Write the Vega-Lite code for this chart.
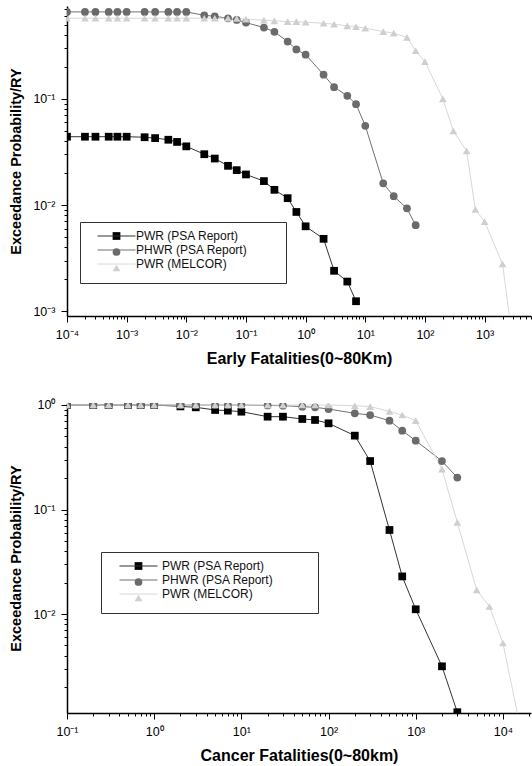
{
  "$schema": "https://vega.github.io/schema/vega-lite/v6.json",
  "padding": {"left": 8, "top": 3, "right": 0, "bottom": 0},
  "spacing": 31,
  "resolve": {
    "scale": {"fill": "independent", "shape": "independent", "stroke": "independent"},
    "legend": {"fill": "independent", "shape": "independent", "stroke": "independent"}
  },
  "config": {
    "view": {"stroke": null},
    "font": "Liberation Sans",
    "axis": {"grid": false, "domainColor": "#000000", "domainWidth": 1.5, "tickColor": "#000000", "tickWidth": 1, "labelFont": "Liberation Sans", "labelFontSize": 12.5, "labelColor": "#000000", "titleFont": "Liberation Sans", "titleFontWeight": "bold", "titleColor": "#000000", "labelOverlap": false, "labelFlush": false, "labelBound": false},
    "axisX": {"titleFontSize": 16, "labelPadding": 6, "titlePadding": 10},
    "axisY": {"titleFontSize": 14.5, "labelPadding": 6, "titlePadding": 9},
    "legend": {"orient": "none", "title": null, "padding": 8, "labelFont": "Liberation Sans", "labelFontSize": 12, "labelColor": "#111111", "rowPadding": 2, "fillColor": null}
  },
  "datasets": {
    "early": [
      {"series": "PWR (PSA Report)", "x": 0.0001, "y": 0.044},
      {"series": "PWR (PSA Report)", "x": 0.0002, "y": 0.044},
      {"series": "PWR (PSA Report)", "x": 0.0003, "y": 0.044},
      {"series": "PWR (PSA Report)", "x": 0.0005, "y": 0.044},
      {"series": "PWR (PSA Report)", "x": 0.0007, "y": 0.044},
      {"series": "PWR (PSA Report)", "x": 0.001, "y": 0.044},
      {"series": "PWR (PSA Report)", "x": 0.002, "y": 0.0435},
      {"series": "PWR (PSA Report)", "x": 0.003, "y": 0.0427},
      {"series": "PWR (PSA Report)", "x": 0.005, "y": 0.0412},
      {"series": "PWR (PSA Report)", "x": 0.007, "y": 0.0393},
      {"series": "PWR (PSA Report)", "x": 0.01, "y": 0.0357},
      {"series": "PWR (PSA Report)", "x": 0.02, "y": 0.0301},
      {"series": "PWR (PSA Report)", "x": 0.03, "y": 0.0274},
      {"series": "PWR (PSA Report)", "x": 0.05, "y": 0.0234},
      {"series": "PWR (PSA Report)", "x": 0.07, "y": 0.0213},
      {"series": "PWR (PSA Report)", "x": 0.1, "y": 0.0194},
      {"series": "PWR (PSA Report)", "x": 0.2, "y": 0.0168},
      {"series": "PWR (PSA Report)", "x": 0.3, "y": 0.0139},
      {"series": "PWR (PSA Report)", "x": 0.5, "y": 0.0116},
      {"series": "PWR (PSA Report)", "x": 0.7, "y": 0.0086},
      {"series": "PWR (PSA Report)", "x": 1, "y": 0.0063},
      {"series": "PWR (PSA Report)", "x": 2, "y": 0.0048},
      {"series": "PWR (PSA Report)", "x": 3, "y": 0.0024},
      {"series": "PWR (PSA Report)", "x": 5, "y": 0.0019},
      {"series": "PWR (PSA Report)", "x": 7, "y": 0.00124},
      {"series": "PHWR (PSA Report)", "x": 0.0001, "y": 0.66},
      {"series": "PHWR (PSA Report)", "x": 0.0002, "y": 0.66},
      {"series": "PHWR (PSA Report)", "x": 0.0003, "y": 0.66},
      {"series": "PHWR (PSA Report)", "x": 0.0005, "y": 0.66},
      {"series": "PHWR (PSA Report)", "x": 0.0007, "y": 0.66},
      {"series": "PHWR (PSA Report)", "x": 0.001, "y": 0.66},
      {"series": "PHWR (PSA Report)", "x": 0.002, "y": 0.66},
      {"series": "PHWR (PSA Report)", "x": 0.003, "y": 0.66},
      {"series": "PHWR (PSA Report)", "x": 0.005, "y": 0.66},
      {"series": "PHWR (PSA Report)", "x": 0.007, "y": 0.66},
      {"series": "PHWR (PSA Report)", "x": 0.01, "y": 0.66},
      {"series": "PHWR (PSA Report)", "x": 0.02, "y": 0.613},
      {"series": "PHWR (PSA Report)", "x": 0.03, "y": 0.6},
      {"series": "PHWR (PSA Report)", "x": 0.05, "y": 0.574},
      {"series": "PHWR (PSA Report)", "x": 0.07, "y": 0.555},
      {"series": "PHWR (PSA Report)", "x": 0.1, "y": 0.523},
      {"series": "PHWR (PSA Report)", "x": 0.2, "y": 0.47},
      {"series": "PHWR (PSA Report)", "x": 0.3, "y": 0.428},
      {"series": "PHWR (PSA Report)", "x": 0.5, "y": 0.347},
      {"series": "PHWR (PSA Report)", "x": 0.7, "y": 0.292},
      {"series": "PHWR (PSA Report)", "x": 1, "y": 0.261},
      {"series": "PHWR (PSA Report)", "x": 2, "y": 0.169},
      {"series": "PHWR (PSA Report)", "x": 3, "y": 0.129},
      {"series": "PHWR (PSA Report)", "x": 5, "y": 0.107},
      {"series": "PHWR (PSA Report)", "x": 7, "y": 0.0892},
      {"series": "PHWR (PSA Report)", "x": 10, "y": 0.0558},
      {"series": "PHWR (PSA Report)", "x": 20, "y": 0.016},
      {"series": "PHWR (PSA Report)", "x": 30, "y": 0.0121},
      {"series": "PHWR (PSA Report)", "x": 50, "y": 0.0093},
      {"series": "PHWR (PSA Report)", "x": 70, "y": 0.00645},
      {"series": "PWR (MELCOR)", "x": 0.0001, "y": 0.575},
      {"series": "PWR (MELCOR)", "x": 0.0002, "y": 0.575},
      {"series": "PWR (MELCOR)", "x": 0.0003, "y": 0.575},
      {"series": "PWR (MELCOR)", "x": 0.0005, "y": 0.575},
      {"series": "PWR (MELCOR)", "x": 0.0007, "y": 0.575},
      {"series": "PWR (MELCOR)", "x": 0.001, "y": 0.575},
      {"series": "PWR (MELCOR)", "x": 0.002, "y": 0.575},
      {"series": "PWR (MELCOR)", "x": 0.003, "y": 0.575},
      {"series": "PWR (MELCOR)", "x": 0.005, "y": 0.575},
      {"series": "PWR (MELCOR)", "x": 0.007, "y": 0.575},
      {"series": "PWR (MELCOR)", "x": 0.01, "y": 0.575},
      {"series": "PWR (MELCOR)", "x": 0.02, "y": 0.575},
      {"series": "PWR (MELCOR)", "x": 0.03, "y": 0.575},
      {"series": "PWR (MELCOR)", "x": 0.05, "y": 0.575},
      {"series": "PWR (MELCOR)", "x": 0.07, "y": 0.572},
      {"series": "PWR (MELCOR)", "x": 0.1, "y": 0.565},
      {"series": "PWR (MELCOR)", "x": 0.2, "y": 0.551},
      {"series": "PWR (MELCOR)", "x": 0.3, "y": 0.543},
      {"series": "PWR (MELCOR)", "x": 0.5, "y": 0.535},
      {"series": "PWR (MELCOR)", "x": 0.7, "y": 0.535},
      {"series": "PWR (MELCOR)", "x": 1, "y": 0.527},
      {"series": "PWR (MELCOR)", "x": 2, "y": 0.516},
      {"series": "PWR (MELCOR)", "x": 3, "y": 0.505},
      {"series": "PWR (MELCOR)", "x": 5, "y": 0.487},
      {"series": "PWR (MELCOR)", "x": 7, "y": 0.48},
      {"series": "PWR (MELCOR)", "x": 10, "y": 0.463},
      {"series": "PWR (MELCOR)", "x": 20, "y": 0.431},
      {"series": "PWR (MELCOR)", "x": 30, "y": 0.416},
      {"series": "PWR (MELCOR)", "x": 50, "y": 0.379},
      {"series": "PWR (MELCOR)", "x": 70, "y": 0.284},
      {"series": "PWR (MELCOR)", "x": 100, "y": 0.224},
      {"series": "PWR (MELCOR)", "x": 200, "y": 0.1},
      {"series": "PWR (MELCOR)", "x": 300, "y": 0.0498},
      {"series": "PWR (MELCOR)", "x": 500, "y": 0.0323},
      {"series": "PWR (MELCOR)", "x": 700, "y": 0.0091},
      {"series": "PWR (MELCOR)", "x": 1000, "y": 0.00698},
      {"series": "PWR (MELCOR)", "x": 2000, "y": 0.00278},
      {"series": "PWR (MELCOR)", "x": 3000, "y": 0.0005}
    ],
    "cancer": [
      {"series": "PWR (PSA Report)", "x": 0.1, "y": 1},
      {"series": "PWR (PSA Report)", "x": 0.2, "y": 1},
      {"series": "PWR (PSA Report)", "x": 0.3, "y": 1},
      {"series": "PWR (PSA Report)", "x": 0.5, "y": 1},
      {"series": "PWR (PSA Report)", "x": 0.7, "y": 1},
      {"series": "PWR (PSA Report)", "x": 1, "y": 1},
      {"series": "PWR (PSA Report)", "x": 2, "y": 0.97},
      {"series": "PWR (PSA Report)", "x": 3, "y": 0.95},
      {"series": "PWR (PSA Report)", "x": 5, "y": 0.896},
      {"series": "PWR (PSA Report)", "x": 7, "y": 0.883},
      {"series": "PWR (PSA Report)", "x": 10, "y": 0.863},
      {"series": "PWR (PSA Report)", "x": 20, "y": 0.773},
      {"series": "PWR (PSA Report)", "x": 30, "y": 0.773},
      {"series": "PWR (PSA Report)", "x": 50, "y": 0.735},
      {"series": "PWR (PSA Report)", "x": 70, "y": 0.719},
      {"series": "PWR (PSA Report)", "x": 100, "y": 0.668},
      {"series": "PWR (PSA Report)", "x": 200, "y": 0.509},
      {"series": "PWR (PSA Report)", "x": 300, "y": 0.291},
      {"series": "PWR (PSA Report)", "x": 500, "y": 0.0637},
      {"series": "PWR (PSA Report)", "x": 700, "y": 0.0229},
      {"series": "PWR (PSA Report)", "x": 1000, "y": 0.0111},
      {"series": "PWR (PSA Report)", "x": 2000, "y": 0.00316},
      {"series": "PWR (PSA Report)", "x": 3000, "y": 0.00115},
      {"series": "PHWR (PSA Report)", "x": 0.1, "y": 1},
      {"series": "PHWR (PSA Report)", "x": 0.2, "y": 1},
      {"series": "PHWR (PSA Report)", "x": 0.3, "y": 1},
      {"series": "PHWR (PSA Report)", "x": 0.5, "y": 1},
      {"series": "PHWR (PSA Report)", "x": 0.7, "y": 1},
      {"series": "PHWR (PSA Report)", "x": 1, "y": 1},
      {"series": "PHWR (PSA Report)", "x": 2, "y": 1},
      {"series": "PHWR (PSA Report)", "x": 3, "y": 1},
      {"series": "PHWR (PSA Report)", "x": 5, "y": 1},
      {"series": "PHWR (PSA Report)", "x": 7, "y": 1},
      {"series": "PHWR (PSA Report)", "x": 10, "y": 1},
      {"series": "PHWR (PSA Report)", "x": 20, "y": 0.99},
      {"series": "PHWR (PSA Report)", "x": 30, "y": 0.985},
      {"series": "PHWR (PSA Report)", "x": 50, "y": 0.964},
      {"series": "PHWR (PSA Report)", "x": 70, "y": 0.95},
      {"series": "PHWR (PSA Report)", "x": 100, "y": 0.915},
      {"series": "PHWR (PSA Report)", "x": 200, "y": 0.832},
      {"series": "PHWR (PSA Report)", "x": 300, "y": 0.802},
      {"series": "PHWR (PSA Report)", "x": 500, "y": 0.708},
      {"series": "PHWR (PSA Report)", "x": 700, "y": 0.568},
      {"series": "PHWR (PSA Report)", "x": 1000, "y": 0.456},
      {"series": "PHWR (PSA Report)", "x": 2000, "y": 0.291},
      {"series": "PHWR (PSA Report)", "x": 3000, "y": 0.202},
      {"series": "PWR (MELCOR)", "x": 0.1, "y": 1},
      {"series": "PWR (MELCOR)", "x": 0.2, "y": 1},
      {"series": "PWR (MELCOR)", "x": 0.3, "y": 1},
      {"series": "PWR (MELCOR)", "x": 0.5, "y": 1},
      {"series": "PWR (MELCOR)", "x": 0.7, "y": 1},
      {"series": "PWR (MELCOR)", "x": 1, "y": 1},
      {"series": "PWR (MELCOR)", "x": 2, "y": 1},
      {"series": "PWR (MELCOR)", "x": 3, "y": 1},
      {"series": "PWR (MELCOR)", "x": 5, "y": 1},
      {"series": "PWR (MELCOR)", "x": 7, "y": 1},
      {"series": "PWR (MELCOR)", "x": 10, "y": 1},
      {"series": "PWR (MELCOR)", "x": 20, "y": 1},
      {"series": "PWR (MELCOR)", "x": 30, "y": 1},
      {"series": "PWR (MELCOR)", "x": 50, "y": 1},
      {"series": "PWR (MELCOR)", "x": 70, "y": 1},
      {"series": "PWR (MELCOR)", "x": 100, "y": 1},
      {"series": "PWR (MELCOR)", "x": 200, "y": 0.985},
      {"series": "PWR (MELCOR)", "x": 300, "y": 0.964},
      {"series": "PWR (MELCOR)", "x": 500, "y": 0.87},
      {"series": "PWR (MELCOR)", "x": 700, "y": 0.802},
      {"series": "PWR (MELCOR)", "x": 1000, "y": 0.708},
      {"series": "PWR (MELCOR)", "x": 2000, "y": 0.244},
      {"series": "PWR (MELCOR)", "x": 3000, "y": 0.0754},
      {"series": "PWR (MELCOR)", "x": 5000, "y": 0.017},
      {"series": "PWR (MELCOR)", "x": 7000, "y": 0.0118},
      {"series": "PWR (MELCOR)", "x": 10000, "y": 0.00528},
      {"series": "PWR (MELCOR)", "x": 20000, "y": 0.00032}
    ]
  },
  "vconcat": [
    {
      "width": 464,
      "height": 310,
      "data": {"name": "early"},
      "encoding": {
        "x": {"field": "x", "type": "quantitative",
          "scale": {"type": "log", "domain": [0.0001, 6000], "nice": false},
          "axis": {"title": "Early Fatalities(0~80Km)",
            "values": [0.0001,0.0002,0.0003,0.0004,0.0005,0.0006,0.0007,0.0008,0.0009,0.001,0.002,0.003,0.004,0.005,0.006,0.007,0.008,0.009,0.01,0.02,0.03,0.04,0.05,0.06,0.07,0.08,0.09,0.1,0.2,0.3,0.4,0.5,0.6,0.7,0.8,0.9,1,2,3,4,5,6,7,8,9,10,20,30,40,50,60,70,80,90,100,200,300,400,500,600,700,800,900,1000,2000,3000,4000,5000,6000],
            "labelExpr": "abs(log(datum.value)/LN10 - round(log(datum.value)/LN10)) < 0.001 ? '10' + ['⁻⁴','⁻³','⁻²','⁻¹','⁰','¹','²','³','⁴'][round(log(datum.value)/LN10)+4] : ''",
            "tickSize": {"condition": {"test": "abs(log(datum.value)/LN10 - round(log(datum.value)/LN10)) < 0.001", "value": 6}, "value": 3}}},
        "y": {"field": "y", "type": "quantitative",
          "scale": {"type": "log", "domain": [0.0009, 0.75], "nice": false},
          "axis": {"title": "Exceedance Probability/RY",
            "values": [0.001,0.002,0.003,0.004,0.005,0.006,0.007,0.008,0.009,0.01,0.02,0.03,0.04,0.05,0.06,0.07,0.08,0.09,0.1,0.2,0.3,0.4,0.5,0.6,0.7],
            "labelExpr": "abs(log(datum.value)/LN10 - round(log(datum.value)/LN10)) < 0.001 ? '10' + ['⁻⁴','⁻³','⁻²','⁻¹','⁰','¹','²','³','⁴'][round(log(datum.value)/LN10)+4] : ''",
            "tickSize": {"condition": {"test": "abs(log(datum.value)/LN10 - round(log(datum.value)/LN10)) < 0.001", "value": 6}, "value": 3}}}
      },
      "layer": [
        {"mark": {"type": "line", "clip": true, "strokeWidth": 1},
         "encoding": {"stroke": {"field": "series", "type": "nominal",
           "scale": {"domain": ["PWR (PSA Report)", "PHWR (PSA Report)", "PWR (MELCOR)"], "range": ["#333333", "#707070", "#d8d8d8"]},
           "legend": {"legendX": 13, "legendY": 216, "symbolType": "M-4.75,0H4.75", "symbolSize": 64, "symbolStrokeWidth": 1, "symbolOffset": 22.5, "labelOffset": 13.5}}}},
        {"mark": {"type": "point", "filled": true, "clip": true, "opacity": 1, "size": 60},
         "encoding": {
           "fill": {"field": "series", "type": "nominal", "scale": {"domain": ["PWR (PSA Report)", "PHWR (PSA Report)", "PWR (MELCOR)"], "range": ["#000000", "#6b6b6b", "#cfcfcf"]},
             "legend": {"legendX": 13, "legendY": 216, "strokeColor": "#333333", "symbolSize": 60, "symbolOffset": 22.5, "labelOffset": 155.5, "labelExpr": "''"}},
           "shape": {"field": "series", "type": "nominal", "scale": {"domain": ["PWR (PSA Report)", "PHWR (PSA Report)", "PWR (MELCOR)"], "range": ["square", "circle", "triangle-up"]},
             "legend": {"legendX": 13, "legendY": 216, "strokeColor": "#333333", "symbolSize": 60, "symbolOffset": 22.5, "labelOffset": 155.5, "labelExpr": "''"}}}}
      ],
      "resolve": {"legend": {"stroke": "independent"}}
    },
    {
      "width": 464,
      "height": 310,
      "data": {"name": "cancer"},
      "encoding": {
        "x": {"field": "x", "type": "quantitative",
          "scale": {"type": "log", "domain": [0.1, 21000], "nice": false},
          "axis": {"title": "Cancer Fatalities(0~80km)",
            "values": [0.1,0.2,0.3,0.4,0.5,0.6,0.7,0.8,0.9,1,2,3,4,5,6,7,8,9,10,20,30,40,50,60,70,80,90,100,200,300,400,500,600,700,800,900,1000,2000,3000,4000,5000,6000,7000,8000,9000,10000,20000],
            "labelExpr": "abs(log(datum.value)/LN10 - round(log(datum.value)/LN10)) < 0.001 ? '10' + ['⁻⁴','⁻³','⁻²','⁻¹','⁰','¹','²','³','⁴'][round(log(datum.value)/LN10)+4] : ''",
            "tickSize": {"condition": {"test": "abs(log(datum.value)/LN10 - round(log(datum.value)/LN10)) < 0.001", "value": 6}, "value": 3}}},
        "y": {"field": "y", "type": "quantitative",
          "scale": {"type": "log", "domain": [0.00113, 1.045], "nice": false},
          "axis": {"title": "Exceedance Probability/RY",
            "values": [0.002,0.003,0.004,0.005,0.006,0.007,0.008,0.009,0.01,0.02,0.03,0.04,0.05,0.06,0.07,0.08,0.09,0.1,0.2,0.3,0.4,0.5,0.6,0.7,0.8,0.9,1],
            "labelExpr": "abs(log(datum.value)/LN10 - round(log(datum.value)/LN10)) < 0.001 ? '10' + ['⁻⁴','⁻³','⁻²','⁻¹','⁰','¹','²','³','⁴'][round(log(datum.value)/LN10)+4] : ''",
            "tickSize": {"condition": {"test": "abs(log(datum.value)/LN10 - round(log(datum.value)/LN10)) < 0.001", "value": 6}, "value": 3}}}
      },
      "layer": [
        {"mark": {"type": "line", "clip": true, "strokeWidth": 1},
         "encoding": {"stroke": {"field": "series", "type": "nominal",
           "scale": {"domain": ["PWR (PSA Report)", "PHWR (PSA Report)", "PWR (MELCOR)"], "range": ["#333333", "#707070", "#d8d8d8"]},
           "legend": {"legendX": 34, "legendY": 149, "symbolType": "M-4.75,0H4.75", "symbolSize": 64, "symbolStrokeWidth": 1, "symbolOffset": 23.5, "labelOffset": 17.5}}}},
        {"mark": {"type": "point", "filled": true, "clip": true, "opacity": 1, "size": 60},
         "encoding": {
           "fill": {"field": "series", "type": "nominal", "scale": {"domain": ["PWR (PSA Report)", "PHWR (PSA Report)", "PWR (MELCOR)"], "range": ["#000000", "#6b6b6b", "#cfcfcf"]},
             "legend": {"legendX": 34, "legendY": 149, "strokeColor": "#333333", "symbolSize": 60, "symbolOffset": 23.5, "labelOffset": 165.5, "labelExpr": "''"}},
           "shape": {"field": "series", "type": "nominal", "scale": {"domain": ["PWR (PSA Report)", "PHWR (PSA Report)", "PWR (MELCOR)"], "range": ["square", "circle", "triangle-up"]},
             "legend": {"legendX": 34, "legendY": 149, "strokeColor": "#333333", "symbolSize": 60, "symbolOffset": 23.5, "labelOffset": 165.5, "labelExpr": "''"}}}}
      ],
      "resolve": {"legend": {"stroke": "independent"}}
    }
  ]
}
